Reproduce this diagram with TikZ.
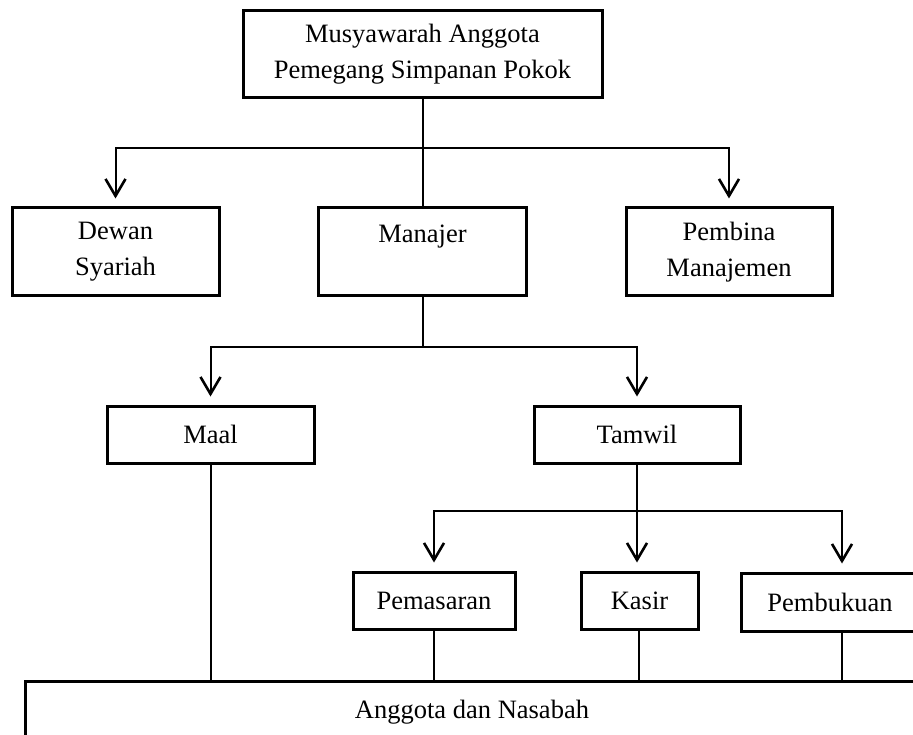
\documentclass[tikz,border=0pt]{standalone}
\usepackage{fontspec}
\setmainfont{Liberation Serif}
\usetikzlibrary{arrows.meta, calc}

\begin{document}
\begin{tikzpicture}[x=1pt, y=-1pt,
    every node/.style={font=\fontsize{26.5}{36}\selectfont, align=center, inner sep=0pt},
    tallbox/.style={draw, line width=3pt, minimum height=88pt},
    unitbox/.style={draw, line width=3pt, minimum height=57pt},
    link/.style={line width=2pt},
    arrowlink/.style={line width=2pt, -{Straight Barb[length=17pt, width=20pt, line width=2.6pt]}, shorten >=8pt}
]
\useasboundingbox (0,0) rectangle (913,735);
\clip (0,0) rectangle (913,735);

\node[tallbox, minimum width=359pt, minimum height=87pt] (musyawarah) at (422.5,54.5) {Musyawarah Anggota\\Pemegang Simpanan Pokok};
\node[tallbox, minimum width=207pt] (dewan) at (115.5,252) {Dewan\\Syariah};
\node[tallbox, minimum width=208pt] (manajer) at (422.5,252) {Manajer\\\mbox{}};
\node[tallbox, minimum width=206pt] (pembina) at (729,252) {Pembina\\Manajemen};
\node[unitbox, minimum width=207pt] (maal) at (210.5,434.5) {Maal};
\node[unitbox, minimum width=206pt] (tamwil) at (637,434.5) {Tamwil};
\node[unitbox, minimum width=162pt] (pemasaran) at (434,600.5) {Pemasaran};
\node[unitbox, minimum width=117pt] (kasir) at (639.5,600.5) {Kasir};
\node[unitbox, minimum width=178pt, minimum height=58pt] (pembukuan) at (830,602) {Pembukuan};

% anggota dan nasabah (cut off at the page edge)
\draw[line width=3pt] (25,681) coordinate (nasabahtop) rectangle (945,770);
\node (nasabah) at (472,712) {Anggota dan Nasabah};

\coordinate (bus1) at (422.5,148);
\coordinate (bus2) at (422.5,347);
\coordinate (bus3) at (637,511);

\draw[link] (musyawarah.south) -- (manajer.north);
\draw[arrowlink] (bus1) -| (dewan.north);
\draw[arrowlink] (bus1) -| (pembina.north);

\draw[link] (manajer.south) -- (bus2);
\draw[arrowlink] (bus2) -| (maal.north);
\draw[arrowlink] (bus2) -| (tamwil.north);

\draw[link] (tamwil.south) -- (bus3);
\draw[arrowlink] (bus3) -| (pemasaran.north);
\draw[arrowlink] (bus3) -| ([xshift=-2.5pt]kasir.north);
\draw[arrowlink] (bus3) -| ([xshift=12pt]pembukuan.north);

\draw[link] (maal.south) -- (maal.south |- nasabahtop);
\draw[link] (pemasaran.south) -- (pemasaran.south |- nasabahtop);
\draw[link] ([xshift=-0.5pt]kasir.south) -- ([xshift=-0.5pt]kasir.south |- nasabahtop);
\draw[link] ([xshift=12pt]pembukuan.south) -- ([xshift=12pt]pembukuan.south |- nasabahtop);
\end{tikzpicture}
\end{document}
